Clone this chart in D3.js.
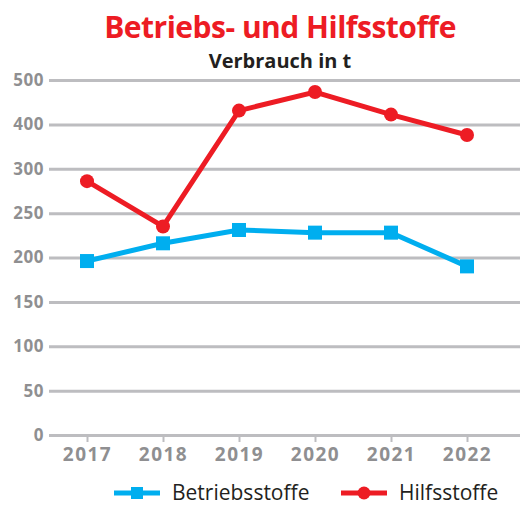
<!DOCTYPE html>
<html lang="de">
<head>
  <meta charset="UTF-8">
  <script src="https://d3js.org/d3.v7.min.js"></script>
  <title>Betriebs- und Hilfsstoffe</title>
  <style>
    body { margin: 0; background: #fff; }
    svg { display: block; }
  </style>
</head>
<body>
<script>
  // data
  const years = ["2017", "2018", "2019", "2020", "2021", "2022"]
  const betriebsstoffe = [196, 216, 231, 228, 228, 190]
  const hilfsstoffe = [286, 235, 431, 473, 422, 376]
  const yTicks = [0, 50, 100, 150, 200, 250, 300, 400, 500]

  const width = 520
  const height = 506
  const red = "#ed1c24"
  const blue = "#00aeef"
  const grey = "#8f8f91"

  const svg = d3.select("body").append("svg")
    .attr("width", width)
    .attr("height", height)

  // titles
  svg.append("text")
    .attr("x", 280).attr("y", 38)
    .attr("text-anchor", "middle")
    .style("font-family", "Open Sans")
    .style("font-weight", 700)
    .style("font-size", "30px")
    .style("letter-spacing", "-0.5px")
    .style("fill", red)
    .text("Betriebs- und Hilfsstoffe")

  svg.append("text")
    .attr("x", 280).attr("y", 68)
    .attr("text-anchor", "middle")
    .style("font-family", "Open Sans")
    .style("font-weight", 700)
    .style("font-size", "20px")
    .style("fill", "#231f20")
    .text("Verbrauch in t")

  // scales: gridlines are evenly spaced although the labels are not
  const step = 44.375
  const y = d3.scaleLinear()
    .domain(yTicks)
    .range(yTicks.map((d, i) => 435 - i * step))

  const x = d3.scalePoint()
    .domain(years)
    .range([87, 467])

  // y axis with gridlines
  const gy = svg.append("g")
    .attr("transform", "translate(49,0)")
    .call(d3.axisLeft(y).tickValues(yTicks).tickSize(-(width - 49)).tickPadding(5))
  gy.select(".domain").remove()
  gy.selectAll(".tick line").attr("stroke", "#bdbdc0").attr("stroke-width", 3)
  gy.selectAll(".tick text")
    .style("font-family", "Open Sans")
    .style("font-weight", 700)
    .style("font-size", "17px")
    .style("letter-spacing", "0.5px")
    .style("fill", grey)

  // x axis
  const gx = svg.append("g")
    .attr("transform", "translate(0,436)")
    .call(d3.axisBottom(x).tickSize(6).tickPadding(6))
  gx.select(".domain").remove()
  gx.selectAll(".tick line").attr("stroke", "#bdbdc0").attr("stroke-width", 2)
  gx.selectAll(".tick text")
    .style("font-family", "Open Sans")
    .style("font-weight", 700)
    .style("font-size", "19px")
    .style("letter-spacing", "1.5px")
    .style("fill", grey)

  const line = d3.line()
    .x((d, i) => x(years[i]))
    .y(d => y(d))

  // Betriebsstoffe
  svg.append("path")
    .datum(betriebsstoffe)
    .attr("d", line)
    .attr("fill", "none")
    .attr("stroke", blue)
    .attr("stroke-width", 5)
  svg.selectAll("rect.b")
    .data(betriebsstoffe)
    .enter()
    .append("rect")
    .attr("class", "b")
    .attr("x", (d, i) => x(years[i]) - 7)
    .attr("y", d => y(d) - 7)
    .attr("width", 14)
    .attr("height", 14)
    .attr("fill", blue)

  // Hilfsstoffe
  svg.append("path")
    .datum(hilfsstoffe)
    .attr("d", line)
    .attr("fill", "none")
    .attr("stroke", red)
    .attr("stroke-width", 5)
  svg.selectAll("circle.h")
    .data(hilfsstoffe)
    .enter()
    .append("circle")
    .attr("class", "h")
    .attr("cx", (d, i) => x(years[i]))
    .attr("cy", d => y(d))
    .attr("r", 7)
    .attr("fill", red)

  // legend
  const legend = [
    { name: "Betriebsstoffe", color: blue, shape: "square", x: 114 },
    { name: "Hilfsstoffe", color: red, shape: "circle", x: 341 }
  ]
  const ly = 493
  legend.forEach(function (l) {
    const g = svg.append("g").attr("transform", "translate(" + l.x + "," + ly + ")")
    g.append("line")
      .attr("x1", 0).attr("x2", 46)
      .attr("stroke", l.color).attr("stroke-width", 5)
    if (l.shape == "square") {
      g.append("rect").attr("x", 17).attr("y", -6).attr("width", 12).attr("height", 12).attr("fill", l.color)
    } else {
      g.append("circle").attr("cx", 23).attr("r", 6.5).attr("fill", l.color)
    }
    g.append("text")
      .attr("x", 58).attr("y", 7)
      .style("font-family", "Open Sans")
      .style("font-size", "21px")
      .style("fill", "#231f20")
      .text(l.name)
  })
</script>
</body>
</html>
